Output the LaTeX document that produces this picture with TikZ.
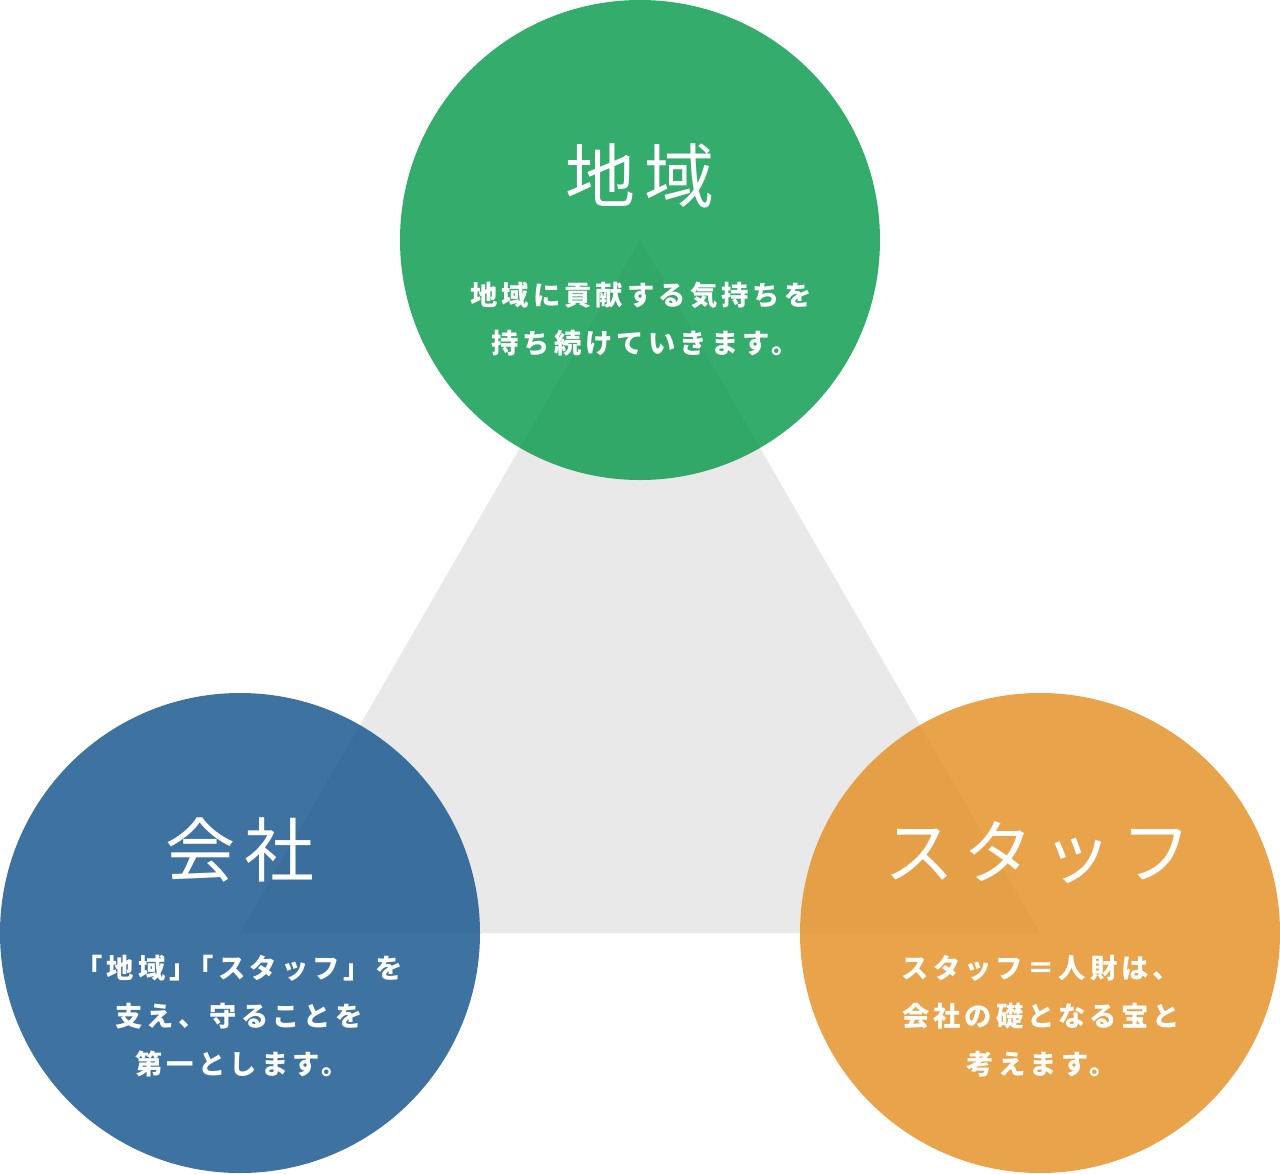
\documentclass[tikz,border=0pt]{standalone}
\usepackage{fontspec}
\newfontfamily\titlefont[LetterSpace=13]{Noto Sans CJK JP}
\newfontfamily\bodyfont[LetterSpace=15]{Noto Sans CJK JP}
\definecolor{trigray}{RGB}{233,233,233}
\definecolor{cgreen}{RGB}{17,157,81}
\definecolor{cblue}{RGB}{27,89,144}
\definecolor{corange}{RGB}{229,147,42}
\tikzset{
  disc/.style={circle, minimum size=480pt, inner sep=0pt, draw=none, fill opacity=0.85},
  ttl/.style={text=white, inner sep=0pt, font=\titlefont\fontsize{70}{84}\selectfont},
  bodyline/.style={text=white, inner sep=0pt, anchor=base, font=\bodyfont\bfseries\fontsize{27.3}{32}\selectfont}
}
\begin{document}
\begin{tikzpicture}[x=1pt,y=-1pt]
\useasboundingbox (0,0) rectangle (1280,1173);
\coordinate (ta) at (640,240);
\coordinate (tb) at (240,933);
\coordinate (tc) at (1040,933);
\fill[trigray] (ta) -- (tb) -- (tc) -- cycle;
\node[disc, fill=cgreen] (cg) at (640,240) {};
\node[disc, fill=cblue] (cb) at (240,933) {};
\node[disc, fill=corange] (co) at (1040,933) {};
% titles
\node[ttl] (tg) at (640,176) {地域};
\node[ttl] (tbl) at (240,850) {会社};
\node[ttl] (tor) at (1038,853) {スタッフ};
% green body
\node[bodyline] (g1) at (641,305) {地域に貢献する気持ちを};
\node[bodyline] (g2) at (645,353) {持ち続けていきます。};
% blue body
\node[bodyline] (b1) at (239,978) {「地域」\kern-10pt「スタッフ」を};
\node[bodyline] (b2) at (239,1026) {支え、守ることを};
\node[bodyline] (b3) at (242,1074) {第一とします。};
% orange body
\node[bodyline] (o1) at (1041,978) {スタッフ＝人財は、};
\node[bodyline] (o2) at (1041,1026) {会社の礎となる宝と};
\node[bodyline] (o3) at (1042,1074) {考えます。};
\end{tikzpicture}
\end{document}
